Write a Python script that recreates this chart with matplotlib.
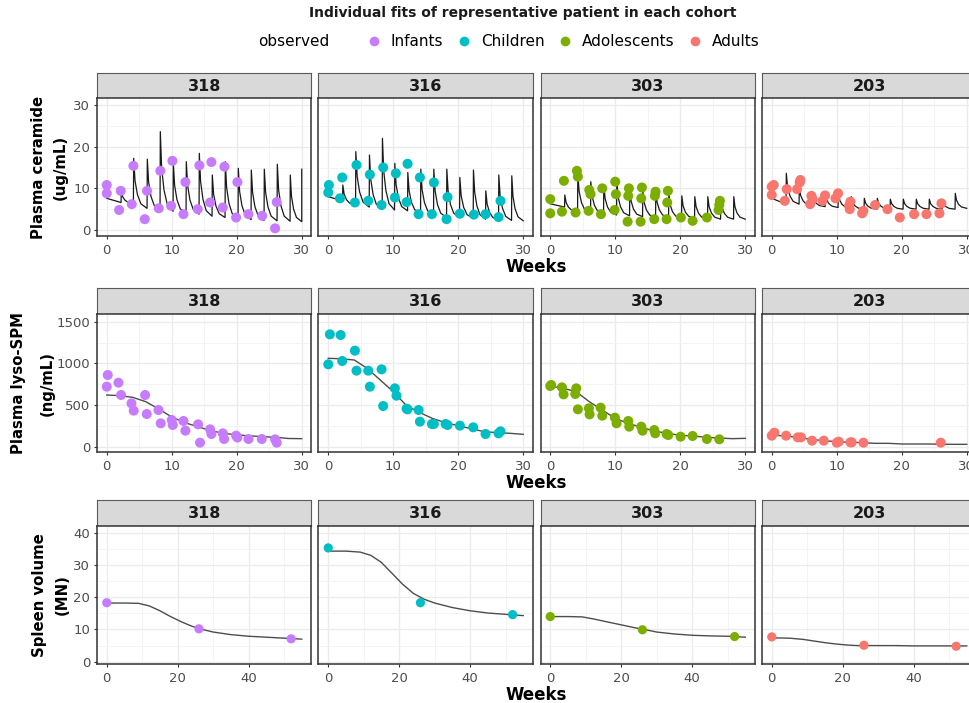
import matplotlib
matplotlib.use("Agg")
import matplotlib.pyplot as plt
from matplotlib.lines import Line2D
from matplotlib.ticker import FixedLocator

plt.rcParams['font.family'] = ['DejaVu Sans']

# ---------------- data ----------------
patients = ["318", "316", "303", "203"]
cohorts = ["Infants", "Children", "Adolescents", "Adults"]
cohort_colors = ["#C77CFF", "#00BFC4", "#7CAE00", "#F8766D"]

# Row 1: plasma ceramide, observed
cer_obs_wk_318 = [0, 0, 1.9, 2.15, 3.85, 4.1, 5.85, 6.2, 8.0, 8.25, 9.9, 10.1, 11.8, 12.1,
                  14.0, 14.25, 15.9, 16.1, 17.85, 18.1, 19.9, 20.1, 21.8, 23.9, 25.9, 26.15]
cer_obs_val_318 = [10.8, 8.8, 4.8, 9.4, 6.2, 15.4, 2.6, 9.4, 5.2, 14.2, 5.8, 16.6, 3.8, 11.5,
                   5.0, 15.5, 6.6, 16.3, 5.4, 15.2, 3.0, 11.5, 3.8, 3.4, 0.4, 6.7]
cer_obs_wk_316 = [0.1, 0.0, 1.8, 2.15, 4.1, 4.35, 6.15, 6.4, 8.2, 8.45, 10.25, 10.4, 12.05, 12.2,
                  13.9, 14.1, 15.95, 16.25, 18.2, 18.35, 20.25, 22.4, 24.2, 26.2, 26.5]
cer_obs_val_316 = [10.8, 9.0, 7.6, 12.6, 6.6, 15.6, 7.0, 13.3, 6.0, 15.0, 7.8, 13.6, 6.7, 15.9,
                   3.8, 12.6, 3.8, 11.4, 2.6, 7.9, 3.9, 3.7, 3.8, 3.1, 7.0]
cer_obs_wk_303 = [0, 0, 1.8, 2.1, 3.9, 4.1, 4.25, 5.9, 6.0, 6.2, 7.8, 8.0, 9.9, 10.0, 10.1,
                  11.9, 12.0, 12.1, 13.9, 14.0, 14.1, 16.0, 16.1, 16.2, 17.9, 18.0, 18.1,
                  20.1, 21.9, 24.1, 25.9, 26.0, 26.1]
cer_obs_val_303 = [7.4, 4.0, 4.4, 11.8, 4.2, 14.2, 12.8, 4.6, 9.6, 8.6, 3.8, 10.0, 4.8, 11.6, 8.6,
                   2.0, 8.2, 10.0, 2.0, 7.6, 10.2, 2.6, 8.2, 9.2, 2.6, 6.6, 9.4,
                   3.0, 2.2, 3.0, 4.8, 6.0, 7.0]
cer_obs_wk_203 = [0.0, 0.3, 0.0, 2.0, 2.3, 3.9, 4.3, 4.4, 5.9, 6.1, 6.3, 7.8, 8.2, 9.8, 10.2,
                  11.9, 12.0, 12.1, 13.9, 14.1, 15.9, 17.8, 19.7, 21.9, 23.8, 25.8, 26.1]
cer_obs_val_203 = [10.4, 10.8, 8.4, 7.0, 9.8, 9.8, 11.4, 12.0, 6.2, 8.2, 7.4, 7.0, 8.3, 7.6, 8.8,
                   5.8, 5.0, 6.8, 4.0, 4.6, 6.0, 5.0, 3.0, 3.8, 3.8, 4.0, 6.4]

# Row 1: model fit (dose times, peak after each dose, trough before each dose / at week 30)
cer_start = [7.6, 8.0, 6.3, 7.6]
cer_dose_318 = [2.2, 4.1, 6.2, 8.2, 10.2, 12.2, 14.2, 16.2, 18.2, 20.2, 22.2, 24.2, 26.2, 28.2, 30.0]
cer_peak_318 = [9.4, 17.2, 17.0, 23.6, 16.2, 16.4, 18.4, 13.2, 16.4, 14.8, 14.4, 14.6, 15.8, 13.2, 14.6]
cer_trough_318 = [6.6, 6.4, 5.2, 4.8, 4.5, 4.0, 3.8, 3.3, 3.0, 2.7, 2.5, 2.3, 2.2, 2.1, 2.0]
cer_dose_316 = [2.2, 4.2, 6.3, 8.3, 10.2, 12.2, 14.2, 16.2, 18.2, 20.2, 22.3, 24.2, 26.2, 28.2]
cer_peak_316 = [10.8, 18.8, 18.0, 22.0, 16.0, 13.8, 14.6, 14.6, 14.6, 12.6, 14.4, 9.4, 13.2, 13.0]
cer_trough_316 = [7.0, 6.0, 5.5, 5.0, 4.8, 4.6, 4.0, 3.6, 3.0, 3.0, 2.8, 2.6, 2.4, 2.3, 2.2]
cer_dose_303 = [2.2, 4.2, 6.2, 8.2, 10.2, 12.2, 14.2, 16.2, 18.2, 20.2, 22.2, 24.2, 26.2, 28.2]
cer_peak_303 = [8.4, 13.6, 11.6, 10.8, 11.6, 10.0, 9.6, 9.6, 8.8, 8.2, 8.0, 8.0, 7.6, 8.0]
cer_trough_303 = [5.5, 4.4, 4.0, 3.8, 3.6, 3.4, 3.2, 3.0, 3.0, 2.8, 2.8, 2.6, 2.6, 2.6, 2.6]
cer_dose_203 = [2.2, 4.2, 6.2, 8.2, 10.2, 12.2, 14.2, 16.2, 18.2, 20.2, 22.2, 24.2, 26.2, 28.2]
cer_peak_203 = [13.6, 10.4, 8.8, 8.8, 8.8, 8.0, 7.6, 7.6, 7.4, 7.4, 7.4, 7.4, 7.2, 8.8]
cer_trough_203 = [6.2, 6.2, 5.8, 5.6, 5.4, 5.2, 5.0, 5.0, 5.0, 5.0, 5.0, 5.0, 5.0, 5.0, 5.2]

# Row 2: plasma lyso-SPM, observed
lyso_obs_wk_318 = [0, 0.15, 1.8, 2.2, 3.8, 4.15, 5.9, 6.15, 7.95, 8.3, 10.0, 10.15, 11.8, 12.1,
                   14.05, 14.35, 15.9, 16.1, 17.85, 18.05, 19.9, 20.1, 21.8, 23.85, 25.9, 26.15]
lyso_obs_val_318 = [720, 860, 768, 620, 520, 432, 620, 392, 440, 280, 320, 260, 308, 192,
                    268, 48, 208, 152, 160, 92, 132, 110, 92, 92, 88, 48]
lyso_obs_wk_316 = [0.0, 0.25, 1.9, 2.15, 4.1, 4.35, 6.15, 6.4, 8.2, 8.45, 10.25, 10.5, 12.05, 12.2,
                   13.9, 14.1, 15.95, 16.25, 18.05, 18.35, 20.25, 22.3, 24.2, 26.2, 26.5]
lyso_obs_val_316 = [988, 1348, 1340, 1028, 1152, 912, 912, 720, 928, 488, 700, 612, 456, 448,
                    440, 300, 272, 272, 272, 260, 252, 232, 152, 160, 184]
lyso_obs_wk_303 = [0, 0.15, 1.8, 2.05, 4.0, 3.85, 4.25, 5.95, 6.05, 7.75, 8.0, 9.95, 10.2, 12.0,
                   12.15, 14.0, 14.2, 16.0, 16.15, 17.9, 18.15, 20.05, 21.9, 24.1, 26.0]
lyso_obs_val_303 = [728, 740, 712, 628, 700, 632, 448, 460, 388, 468, 372, 348, 280, 308,
                    240, 240, 192, 200, 160, 152, 140, 120, 128, 92, 88]
lyso_obs_wk_203 = [0, 0.4, 2.2, 4.0, 4.5, 6.2, 8.0, 10.0, 10.3, 12.1, 12.3, 14.1, 26.0]
lyso_obs_val_203 = [132, 168, 132, 112, 112, 72, 72, 48, 60, 52, 52, 48, 48]

# Row 2: model fit
lyso_fit_wk = [0, 2, 4, 6, 8, 10, 12, 14, 16, 18, 20, 22, 24, 26, 28, 30]
lyso_fit_318 = [620, 612, 592, 540, 452, 356, 288, 240, 192, 160, 142, 130, 120, 112, 98, 96]
lyso_fit_316 = [1060, 1055, 1040, 940, 800, 660, 495, 412, 340, 288, 252, 215, 180, 168, 160, 148]
lyso_fit_303 = [728, 700, 660, 540, 440, 340, 280, 232, 188, 160, 136, 128, 112, 104, 96, 100]
lyso_fit_203 = [140, 128, 112, 88, 72, 60, 52, 48, 40, 40, 32, 32, 32, 30, 28, 28]

# Row 3: spleen volume
spl_obs_wk = [0, 26, 52]
spl_obs_318 = [18.3, 10.2, 7.1]
spl_obs_316 = [35.3, 18.3, 14.6]
spl_obs_303 = [14.0, 9.9, 7.8]
spl_obs_203 = [7.7, 5.1, 4.8]
spl_fit_wk = [0, 5, 9, 12, 15, 18, 21, 24, 27, 30, 35, 40, 45, 50, 55]
spl_fit_318 = [18.2, 18.2, 18.1, 17.3, 15.8, 14.0, 12.4, 11.0, 10.0, 9.2, 8.4, 7.9, 7.6, 7.3, 7.0]
spl_fit_316 = [34.3, 34.3, 34.0, 33.0, 30.8, 27.4, 24.0, 21.2, 19.4, 18.2, 16.8, 15.8, 15.1, 14.7, 14.3]
spl_fit_303 = [14.0, 14.0, 13.9, 13.3, 12.6, 11.9, 11.2, 10.5, 9.9, 9.2, 8.6, 8.2, 8.0, 7.9, 7.6]
spl_fit_203 = [7.4, 7.3, 6.9, 6.4, 5.9, 5.5, 5.2, 5.0, 5.0, 5.0, 5.0, 4.9, 4.9, 4.9, 4.9]

row_labels = [("Plasma ceramide", "(ug/mL)"), ("Plasma lyso-SPM", "(ng/mL)"), ("Spleen volume", "(MN)")]

# ---------------- layout (pixels) ----------------
W, H = 970, 703
fig = plt.figure(figsize=(W / 100, H / 100), dpi=100)
fig.patch.set_facecolor("white")

col_x0 = [97, 318.5, 540.5, 762]
col_w = 214.5
row_geo = [(72.5, 98, 236), (288, 314, 452), (500, 526, 663.5)]  # strip top, panel top, panel bottom
ylims = [(-1.44, 31.68), (-64, 1592), (-0.56, 42.1)]
xlims = [(-1.5, 31.5), (-1.5, 31.5), (-2.75, 57.75)]
ylabel_x = [(38.5, 60.5), (19, 47), (39.6, 62)]


def rect(x0, x1, y0, y1):
    return [x0 / W, 1 - y1 / H, (x1 - x0) / W, (y1 - y0) / H]


# sawtooth shape within each dosing interval (style: fractions of interval / of amplitude)
FT = [0.02, 0.12, 0.3, 0.55, 1.0]
FV = [1.0, 0.55, 0.27, 0.09, 0.0]


def ceramide_curve(start, doses, peaks, troughs, t_end=30.0):
    xs, ys = [0.0], [start]
    for i, (t, pk) in enumerate(zip(doses, peaks)):
        xs.append(t)
        ys.append(troughs[i])
        if t >= t_end:
            xs.append(t)
            ys.append(pk)
            continue
        t_next = doses[i + 1] if i + 1 < len(doses) else t_end
        tr_next = troughs[i + 1]
        for ft, fv in zip(FT, FV):
            xs.append(t + ft * (t_next - t))
            ys.append(tr_next + fv * (pk - tr_next))
    return xs, ys


cer_obs = [(cer_obs_wk_318, cer_obs_val_318), (cer_obs_wk_316, cer_obs_val_316),
           (cer_obs_wk_303, cer_obs_val_303), (cer_obs_wk_203, cer_obs_val_203)]
cer_fit = [(cer_dose_318, cer_peak_318, cer_trough_318), (cer_dose_316, cer_peak_316, cer_trough_316),
           (cer_dose_303, cer_peak_303, cer_trough_303), (cer_dose_203, cer_peak_203, cer_trough_203)]
lyso_obs = [(lyso_obs_wk_318, lyso_obs_val_318), (lyso_obs_wk_316, lyso_obs_val_316),
            (lyso_obs_wk_303, lyso_obs_val_303), (lyso_obs_wk_203, lyso_obs_val_203)]
lyso_fit = [lyso_fit_318, lyso_fit_316, lyso_fit_303, lyso_fit_203]
spl_obs = [spl_obs_318, spl_obs_316, spl_obs_303, spl_obs_203]
spl_fit = [spl_fit_318, spl_fit_316, spl_fit_303, spl_fit_203]

major_y = [[0, 10, 20, 30], [0, 500, 1000, 1500], [0, 10, 20, 30, 40]]
minor_y = [[5, 15, 25], [250, 750, 1250], [5, 15, 25, 35]]
major_x = [[0, 10, 20, 30], [0, 10, 20, 30], [0, 20, 40]]
minor_x = [[5, 15, 25], [5, 15, 25], [10, 30, 50]]

for r in range(3):
    st, pt, pb = row_geo[r]
    for c in range(4):
        x0 = col_x0[c]
        # strip
        sax = fig.add_axes(rect(x0, x0 + col_w, st, pt))
        sax.set_facecolor("#D9D9D9")
        sax.set_xticks([]); sax.set_yticks([])
        for s in sax.spines.values():
            s.set_color("#5a5a5a"); s.set_linewidth(0.8)
        sax.text(0.5, 0.47, patients[c], transform=sax.transAxes, ha="center", va="center",
                 fontsize=11.5, fontweight="bold", color="#1A1A1A")
        # panel
        ax = fig.add_axes(rect(x0, x0 + col_w, pt, pb))
        ax.set_xlim(*xlims[r]); ax.set_ylim(*ylims[r])
        ax.xaxis.set_major_locator(FixedLocator(major_x[r]))
        ax.xaxis.set_minor_locator(FixedLocator(minor_x[r]))
        ax.yaxis.set_major_locator(FixedLocator(major_y[r]))
        ax.yaxis.set_minor_locator(FixedLocator(minor_y[r]))
        ax.grid(which="major", color="#EBEBEB", lw=1.0)
        ax.grid(which="minor", color="#F2F2F2", lw=0.6)
        ax.set_axisbelow(True)
        for s in ax.spines.values():
            s.set_color("#333333"); s.set_linewidth(1.1)
        ax.tick_params(which="minor", length=0)
        ax.tick_params(axis="x", which="major", length=2.5, width=0.8, color="#333333",
                       labelsize=9.5, labelcolor="#4D4D4D", pad=3.5)
        if c == 0:
            ax.tick_params(axis="y", which="major", length=2.5, width=0.8, color="#333333",
                           labelsize=9.5, labelcolor="#4D4D4D", pad=2.5)
        else:
            ax.tick_params(axis="y", which="major", left=False, labelleft=False)
        col = cohort_colors[c]
        if r == 0:
            d, p, t = cer_fit[c]
            xs, ys = ceramide_curve(cer_start[c], d, p, t)
            ax.plot(xs, ys, color="#1a1a1a", lw=0.9, zorder=2)
            ax.scatter(cer_obs[c][0], cer_obs[c][1], s=52, color=col, edgecolors="none", zorder=3)
        elif r == 1:
            ax.plot(lyso_fit_wk, lyso_fit[c], color="#4d4d4d", lw=1.0, zorder=2)
            ax.scatter(lyso_obs[c][0], lyso_obs[c][1], s=52, color=col, edgecolors="none", zorder=3)
        else:
            ax.plot(spl_fit_wk, spl_fit[c], color="#4d4d4d", lw=1.0, zorder=2)
            ax.scatter(spl_obs_wk, spl_obs[c], s=44, color=col, edgecolors="none", zorder=3)
    # row labels
    yc = (pt + pb) / 2
    l1, l2 = row_labels[r]
    fig.text(ylabel_x[r][0] / W, 1 - yc / H, l1, rotation=90, ha="center", va="center",
             fontsize=10.7, fontweight="bold", color="black")
    fig.text(ylabel_x[r][1] / W, 1 - yc / H, l2, rotation=90, ha="center", va="center",
             fontsize=10.7, fontweight="bold", color="black")
    # x label
    fig.text(536.5 / W, 1 - (pb + 31) / H, "Weeks", ha="center", va="center",
             fontsize=12, fontweight="bold", color="black")

# title and legend
fig.text(522.6 / W, 1 - 13.5 / H, "Individual fits of representative patient in each cohort",
         ha="center", va="center", fontsize=10, fontweight="bold", color="#1a1a1a")
fig.text(258 / W, 1 - 41 / H, "observed", ha="left", va="center", fontsize=11, color="black")
handles = [Line2D([], [], marker="o", ls="none", markersize=7, markerfacecolor=cc,
                  markeredgecolor="none") for cc in cohort_colors]
fig.legend(handles, cohorts, loc="center", bbox_to_anchor=(563 / W, 1 - 42 / H), ncol=4,
           frameon=False, fontsize=11, handlelength=1.0, handletextpad=0.6, columnspacing=0.85,
           borderpad=0, borderaxespad=0)

fig.savefig("out.png", dpi=100)
